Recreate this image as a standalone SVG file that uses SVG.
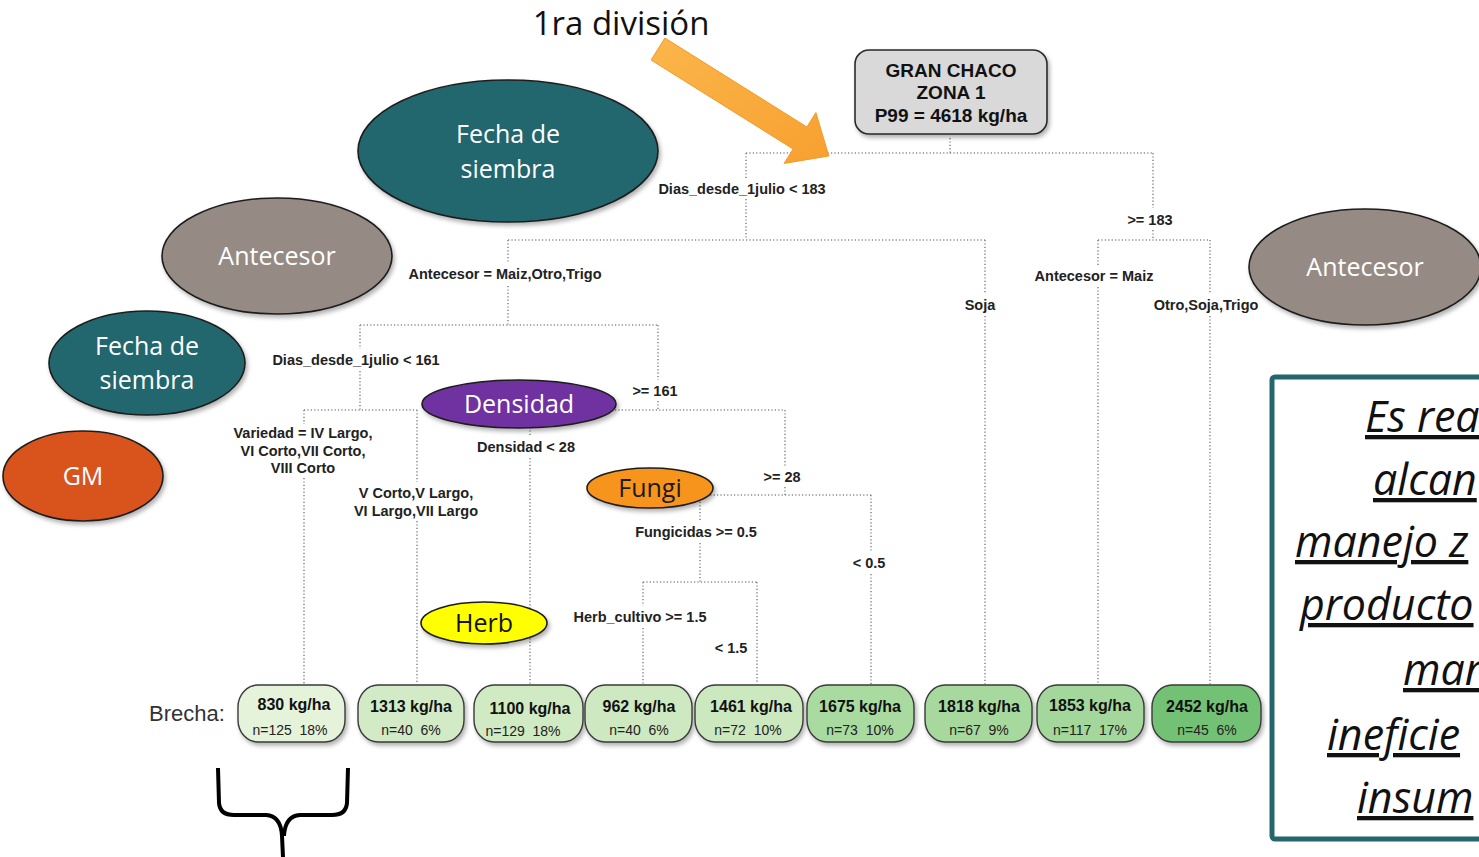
<svg xmlns="http://www.w3.org/2000/svg" width="1479" height="857" viewBox="0 0 1479 857">
<style>
.cn{fill:none;stroke:#8a8a8a;stroke-width:1.6;stroke-dasharray:1.2 2.2}
.lb{font-family:"Liberation Sans",Arial,sans-serif;font-weight:bold;font-size:14.5px;fill:#222;text-anchor:middle}
.el{stroke:#1e1e1e;stroke-width:1.6}
.et{font-family:"Open Sans","Noto Sans",sans-serif;font-size:25px;fill:#fff;text-anchor:middle}
.lf{stroke:#3a3a3a;stroke-width:1.4}
.lt{font-family:"Liberation Sans",Arial,sans-serif;font-weight:bold;font-size:16px;fill:#111;text-anchor:middle}
.ln{font-family:"Liberation Sans",Arial,sans-serif;font-size:14px;fill:#222;text-anchor:middle;white-space:pre}
.bx{font-family:"Open Sans","Noto Sans",sans-serif;font-style:italic;font-size:43px;fill:#111;text-decoration:underline}
</style>
<defs>
<filter id="sh" x="-20%" y="-20%" width="140%" height="150%">
<feDropShadow dx="2" dy="3" stdDeviation="2" flood-color="#000" flood-opacity="0.3"/>
</filter>
<linearGradient id="ag" x1="0" y1="0" x2="1" y2="1">
<stop offset="0" stop-color="#fbb64a"/>
<stop offset="1" stop-color="#f7a030"/>
</linearGradient>
</defs>
<rect width="1479" height="857" fill="#fff"/>

<g id="connectors">
<path class="cn" d="M950,138V153 M746,153H1153"/>
<path class="cn" d="M746,153V178 M746,199V238 M1153,153V208 M1153,230V240"/>
<path class="cn" d="M508,240H985 M508,240V263 M508,286V325 M985,240V293 M985,316V684"/>
<path class="cn" d="M1098,240H1210 M1098,240V265 M1098,287V684 M1210,240V293 M1210,316V684"/>
<path class="cn" d="M360,325H658 M360,325V349 M360,371V410 M658,325V380 M658,401V410"/>
<path class="cn" d="M304,410H417 M304,410V424 M304,478V684 M417,410V482 M417,521V684"/>
<path class="cn" d="M530,410H785 M530,410V436 M530,458V684 M785,410V466 M785,487V495"/>
<path class="cn" d="M700,495H871 M700,495V521 M700,543V582 M871,495V552 M871,574V684"/>
<path class="cn" d="M643,582H757 M643,582V606 M643,628V684 M757,582V684"/>
</g>

<g id="split-labels">
<text class="lb" x="742" y="194">Dias_desde_1julio &lt; 183</text>
<text class="lb" x="1150" y="225">&gt;= 183</text>
<text class="lb" x="505" y="279">Antecesor = Maiz,Otro,Trigo</text>
<text class="lb" x="980" y="310">Soja</text>
<text class="lb" x="1094" y="281">Antecesor = Maiz</text>
<text class="lb" x="1206" y="310">Otro,Soja,Trigo</text>
<text class="lb" x="356" y="365">Dias_desde_1julio &lt; 161</text>
<text class="lb" x="655" y="396">&gt;= 161</text>
<text class="lb" x="303" y="438">Variedad = IV Largo,</text>
<text class="lb" x="303" y="456">VI Corto,VII Corto,</text>
<text class="lb" x="303" y="473">VIII Corto</text>
<text class="lb" x="416" y="498">V Corto,V Largo,</text>
<text class="lb" x="416" y="516">VI Largo,VII Largo</text>
<text class="lb" x="526" y="452">Densidad &lt; 28</text>
<text class="lb" x="782" y="482">&gt;= 28</text>
<text class="lb" x="696" y="537">Fungicidas &gt;= 0.5</text>
<text class="lb" x="869" y="568">&lt; 0.5</text>
<text class="lb" x="640" y="622">Herb_cultivo &gt;= 1.5</text>
<text class="lb" x="731" y="653">&lt; 1.5</text>
</g>

<g id="root">
<rect x="855" y="50" width="192" height="84" rx="14" fill="#d9d9d9" stroke="#2a2a2a" stroke-width="1.6" filter="url(#sh)"/>
<text class="lt" style="font-size:19px" x="951" y="77">GRAN CHACO</text>
<text class="lt" style="font-size:19px" x="951" y="99">ZONA 1</text>
<text class="lt" style="font-size:19px" x="951" y="122">P99 = 4618 kg/ha</text>
</g>

<g id="arrow">
<polygon points="664.9,38 806.9,127 815.9,112.6 828.8,156 784.1,163.4 793.1,149 651.1,60" fill="url(#ag)" stroke="#f39a25" stroke-width="1"/>
<text x="621" y="35" style="font-family:'Open Sans','Noto Sans',sans-serif;font-size:33px;fill:#111;text-anchor:middle">1ra división</text>
</g>

<g id="ell-fecha-1">
<ellipse class="el" cx="508" cy="151" rx="150" ry="71" fill="#23666e" filter="url(#sh)"/>
<text class="et" x="508" y="143">Fecha de</text>
<text class="et" x="508" y="178">siembra</text>
</g>
<g id="ell-antecesor-1">
<ellipse class="el" cx="277" cy="256" rx="115" ry="58" fill="#968b84" filter="url(#sh)"/>
<text class="et" x="277" y="265">Antecesor</text>
</g>
<g id="ell-fecha-2">
<ellipse class="el" cx="147" cy="363" rx="98" ry="52" fill="#23666e" filter="url(#sh)"/>
<text class="et" x="147" y="355">Fecha de</text>
<text class="et" x="147" y="389">siembra</text>
</g>
<g id="ell-gm">
<ellipse class="el" cx="83" cy="476" rx="80" ry="45" fill="#d9531e" filter="url(#sh)"/>
<text class="et" x="83" y="485">GM</text>
</g>
<g id="ell-densidad">
<ellipse class="el" cx="519" cy="404" rx="97" ry="24" fill="#7030a0" filter="url(#sh)"/>
<text class="et" x="519" y="413">Densidad</text>
</g>
<g id="ell-fungi">
<ellipse class="el" cx="650" cy="488" rx="63" ry="20" fill="#f7941d" filter="url(#sh)"/>
<text class="et" x="650" y="497" style="fill:#1a1a1a">Fungi</text>
</g>
<g id="ell-herb">
<ellipse class="el" cx="484" cy="623" rx="63" ry="21" fill="#ffff00" filter="url(#sh)"/>
<text class="et" x="484" y="632" style="fill:#111">Herb</text>
</g>
<g id="ell-antecesor-2">
<ellipse class="el" cx="1365" cy="267" rx="116" ry="58" fill="#968b84" filter="url(#sh)"/>
<text class="et" x="1365" y="276">Antecesor</text>
</g>

<g id="brecha">
<text x="187" y="721" style="font-family:'Liberation Sans',Arial,sans-serif;font-size:22px;fill:#333;text-anchor:middle">Brecha:</text>
</g>

<g id="leaf-830">
<rect class="lf" x="238" y="685" width="107" height="57" rx="20" ry="22" fill="#e5f3db" filter="url(#sh)"/>
<text class="lt" x="294" y="710">830 kg/ha</text><text class="ln" x="290" y="735">n=125  18%</text>
</g>
<g id="leaf-1313">
<rect class="lf" x="358" y="685" width="106" height="57" rx="20" ry="22" fill="#d2ebc6" filter="url(#sh)"/>
<text class="lt" x="411" y="712">1313 kg/ha</text><text class="ln" x="411" y="735">n=40  6%</text>
</g>
<g id="leaf-1100">
<rect class="lf" x="474" y="685" width="109" height="57" rx="20" ry="22" fill="#d0eac3" filter="url(#sh)"/>
<text class="lt" x="530" y="714">1100 kg/ha</text><text class="ln" x="523" y="736">n=129  18%</text>
</g>
<g id="leaf-962">
<rect class="lf" x="585" y="685" width="107" height="57" rx="20" ry="22" fill="#cee9c1" filter="url(#sh)"/>
<text class="lt" x="639" y="712">962 kg/ha</text><text class="ln" x="639" y="735">n=40  6%</text>
</g>
<g id="leaf-1461">
<rect class="lf" x="695" y="685" width="108" height="57" rx="20" ry="22" fill="#cce8bf" filter="url(#sh)"/>
<text class="lt" x="751" y="712">1461 kg/ha</text><text class="ln" x="748" y="735">n=72  10%</text>
</g>
<g id="leaf-1675">
<rect class="lf" x="807" y="685" width="107" height="57" rx="20" ry="22" fill="#a9daa0" filter="url(#sh)"/>
<text class="lt" x="860" y="712">1675 kg/ha</text><text class="ln" x="860" y="735">n=73  10%</text>
</g>
<g id="leaf-1818">
<rect class="lf" x="925" y="685" width="107" height="57" rx="20" ry="22" fill="#a7d99e" filter="url(#sh)"/>
<text class="lt" x="979" y="712">1818 kg/ha</text><text class="ln" x="979" y="735">n=67  9%</text>
</g>
<g id="leaf-1853">
<rect class="lf" x="1037" y="685" width="107" height="57" rx="20" ry="22" fill="#a4d79b" filter="url(#sh)"/>
<text class="lt" x="1090" y="711">1853 kg/ha</text><text class="ln" x="1090" y="735">n=117  17%</text>
</g>
<g id="leaf-2452">
<rect class="lf" x="1152" y="685" width="109" height="57" rx="20" ry="22" fill="#72c174" filter="url(#sh)"/>
<text class="lt" x="1207" y="712">2452 kg/ha</text><text class="ln" x="1207" y="735">n=45  6%</text>
</g>

<g id="brace">
<path d="M218,768 L219,803 Q220,815 234,815 L266,815 Q281,816 282,836 L283,857 M348,768 L347,803 Q346,815 332,815 L300,815 Q285,816 284,836" fill="none" stroke="#000" stroke-width="4" stroke-linejoin="round"/>
</g>

<g id="note-box">
<rect x="1272" y="377" width="260" height="462" rx="3" fill="#fff" stroke="#23666e" stroke-width="5"/>
<text class="bx" x="1365" y="432">Es rea</text>
<text class="bx" x="1373" y="495">alcan</text>
<text class="bx" x="1295" y="557">manejo z</text>
<text class="bx" x="1300" y="620">producto</text>
<text class="bx" x="1403" y="685">man</text>
<text class="bx" x="1327" y="750">ineficie</text>
<text class="bx" x="1357" y="813">insum</text>
</g>
</svg>
